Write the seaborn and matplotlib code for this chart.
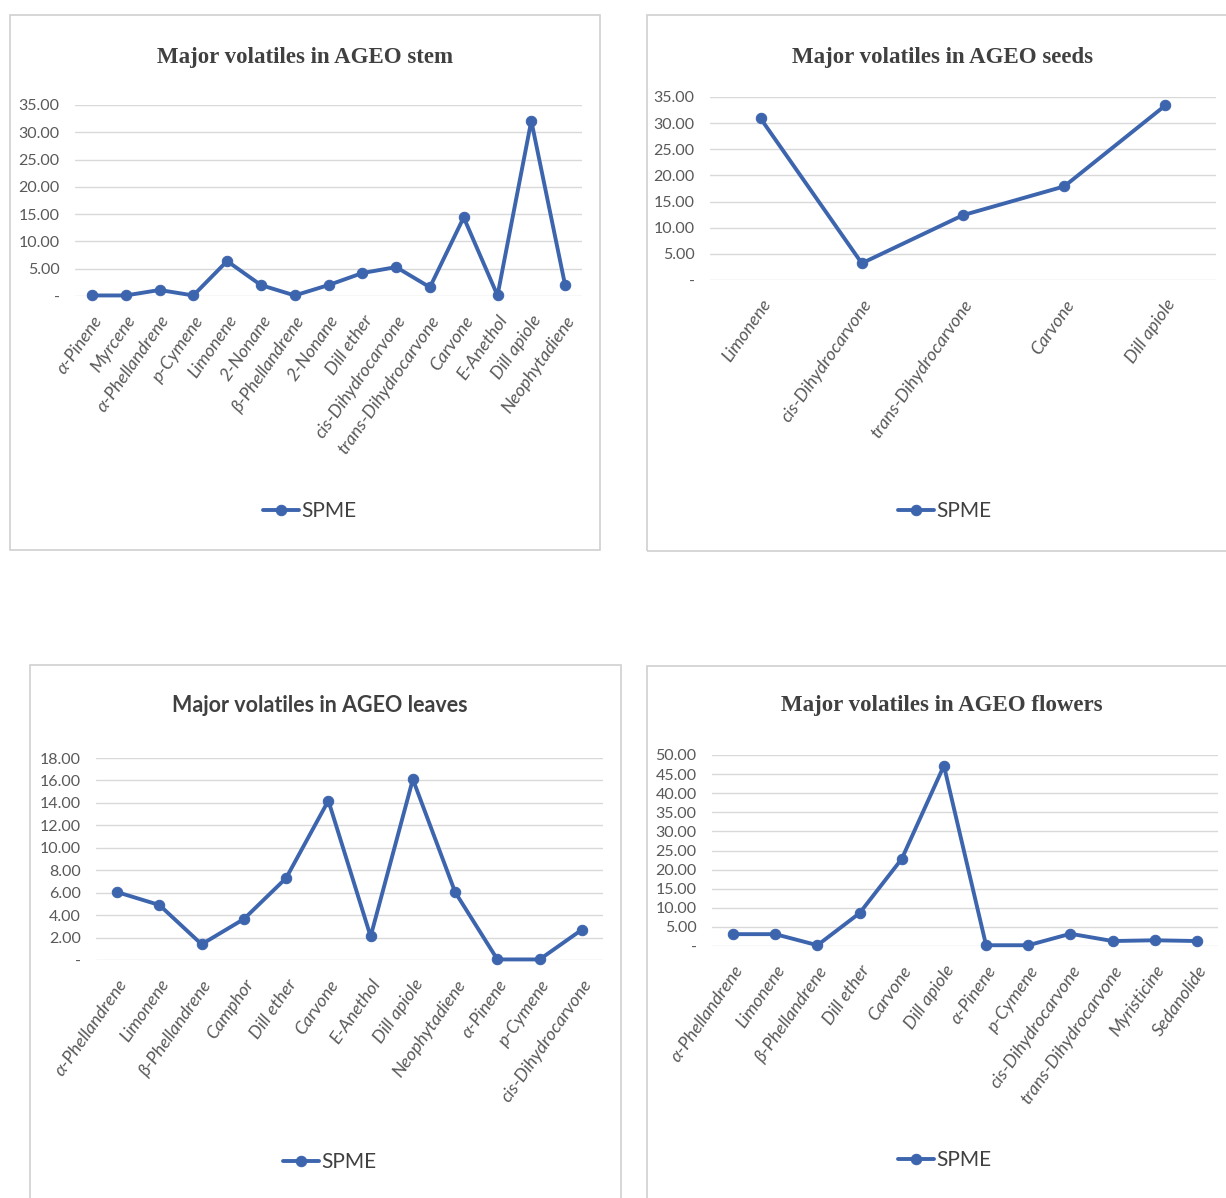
import numpy as np
import pandas as pd
import matplotlib
matplotlib.use("Agg")
import matplotlib.pyplot as plt
import seaborn as sns
from matplotlib.patches import Rectangle
from matplotlib.ticker import FuncFormatter

# ---------------- data ----------------
stem_labels = ["α-Pinene", "Myrcene", "α-Phellandrene", "p-Cymene", "Limonene", "2-Nonane",
               "β-Phellandrene", "2-Nonane", "Dill ether", "cis-Dihydrocarvone",
               "trans-Dihydrocarvone", "Carvone", "E-Anethol", "Dill apiole", "Neophytadiene"]
stem_values = [0.1, 0.1, 1.1, 0.1, 6.4, 2.0, 0.1, 2.0, 4.2, 5.3, 1.6, 14.4, 0.1, 32.1, 2.0]

seeds_labels = ["Limonene", "cis-Dihydrocarvone", "trans-Dihydrocarvone", "Carvone", "Dill apiole"]
seeds_values = [30.9, 3.2, 12.4, 17.9, 33.4]

leaves_labels = ["α-Phellandrene", "Limonene", "β-Phellandrene", "Camphor", "Dill ether", "Carvone",
                 "E-Anethol", "Dill apiole", "Neophytadiene", "α-Pinene", "p-Cymene",
                 "cis-Dihydrocarvone"]
leaves_values = [6.05, 4.9, 1.4, 3.65, 7.3, 14.2, 2.1, 16.1, 6.05, 0.05, 0.05, 2.7]

flowers_labels = ["α-Phellandrene", "Limonene", "β-Phellandrene", "Dill ether", "Carvone",
                  "Dill apiole", "α-Pinene", "p-Cymene", "cis-Dihydrocarvone",
                  "trans-Dihydrocarvone", "Myristicine", "Sedanolide"]
flowers_values = [3.1, 3.1, 0.2, 8.6, 22.8, 47.2, 0.2, 0.2, 3.2, 1.3, 1.5, 1.3]

titles = ["Major volatiles in AGEO stem", "Major volatiles in AGEO seeds",
          "Major volatiles in AGEO leaves", "Major volatiles in AGEO flowers"]
series_name = "SPME"

# ---------------- style ----------------
sns.set_theme(style="white")
SANS = ["Liberation Sans Narrow", "Lato", "DejaVu Sans"]
SERIF = ["Liberation Serif", "DejaVu Serif"]
plt.rcParams["font.family"] = SANS

W, H = 1226, 1198
fig = plt.figure(figsize=(W / 100, H / 100), dpi=100)
fig.patch.set_facecolor("white")

LINE = "#3D65AE"
GRID = "#D9D9D9"
TXT = "#595959"


def frect(l, t, r, b):
    return [l / W, 1 - b / H, (r - l) / W, (b - t) / H]


panels = [
    dict(labels=stem_labels, values=stem_values, title=titles[0], area=(75, 105, 582, 296),
         ymax=35, ystep=5, box=(10, 15, 600, 550), title_xy=(305, 57), leg_xy=(310, 511),
         tfont=SERIF, tsize=16.5),
    dict(labels=seeds_labels, values=seeds_values, title=titles[1], area=(710, 97, 1216, 280),
         ymax=35, ystep=5, box=(647, 15, 1240, 551), title_xy=(942, 57), leg_xy=(945, 511),
         tfont=SERIF, tsize=16.5),
    dict(labels=leaves_labels, values=leaves_values, title=titles[2], area=(96, 758, 603, 960),
         ymax=18, ystep=2, box=(30, 665, 621, 1210), title_xy=(320, 705), leg_xy=(330, 1162),
         tfont=SANS, tsize=15.5),
    dict(labels=flowers_labels, values=flowers_values, title=titles[3], area=(712, 755, 1218, 946),
         ymax=50, ystep=5, box=(647, 666, 1240, 1210), title_xy=(942, 706), leg_xy=(945, 1160),
         tfont=SERIF, tsize=16.5),
]


def yfmt(v, pos):
    return "-" if abs(v) < 1e-9 else f"{v:.2f}"


for p in panels:
    l, t, r, b = p["box"]
    fig.patches.append(Rectangle((l / W, 1 - b / H), (r - l) / W, (b - t) / H,
                                 transform=fig.transFigure, fill=False,
                                 edgecolor="#D0D0D0", linewidth=1.2, zorder=0))
    ax = fig.add_axes(frect(*p["area"]))
    ax.set_facecolor("none")
    n = len(p["labels"])
    df = pd.DataFrame({"pos": np.arange(n), "value": p["values"]})
    sns.lineplot(data=df, x="pos", y="value", ax=ax, color=LINE, linewidth=2.8,
                 marker="o", markersize=7.5, markeredgecolor=LINE, label=series_name,
                 sort=False, zorder=3, clip_on=False)
    ax.set_xlim(-0.5, n - 0.5)
    ax.set_ylim(0, p["ymax"])
    ax.set_yticks(np.arange(0, p["ymax"] + 0.01, p["ystep"]))
    ax.yaxis.set_major_formatter(FuncFormatter(yfmt))
    ax.set_xticks(np.arange(n))
    ax.set_xticklabels(p["labels"], rotation=55, ha="right", rotation_mode="anchor",
                       fontstyle="italic", fontsize=13, color=TXT, family=SANS)
    ax.tick_params(axis="x", length=0, pad=12)
    ax.tick_params(axis="y", length=0, pad=11, labelsize=11.5, labelcolor=TXT)
    for lab in ax.get_yticklabels():
        lab.set_family(SANS)
    ax.grid(axis="y", color=GRID, linewidth=1.0)
    ax.grid(axis="x", visible=False)
    ax.set_axisbelow(True)
    for s in ax.spines.values():
        s.set_visible(False)
    ax.set_xlabel("")
    ax.set_ylabel("")
    fig.text(p["title_xy"][0] / W, 1 - p["title_xy"][1] / H, p["title"],
             ha="center", va="center", fontsize=p["tsize"], fontweight="bold",
             color="#404040", family=p["tfont"])
    leg = ax.legend(loc="center", bbox_to_anchor=(p["leg_xy"][0] / W, 1 - p["leg_xy"][1] / H),
                    bbox_transform=fig.transFigure, frameon=False, fontsize=15,
                    handlelength=1.7, handletextpad=0.15, labelcolor="#404040")

fig.savefig("out.png", dpi=100, facecolor="white")
